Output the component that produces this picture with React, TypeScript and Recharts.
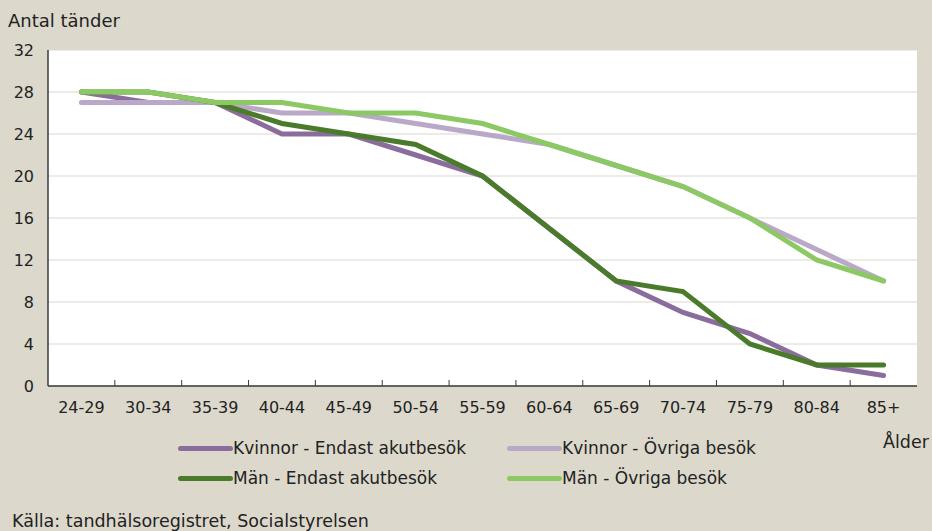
import React from 'react';
import { LineChart, Line, XAxis, YAxis, CartesianGrid } from 'recharts';

const categories = ['24-29', '30-34', '35-39', '40-44', '45-49', '50-54', '55-59', '60-64', '65-69', '70-74', '75-79', '80-84', '85+'];
const kvinnorEndast = [28, 27, 27, 24, 24, 22, 20, 15, 10, 7, 5, 2, 1];
const kvinnorOvriga = [27, 27, 27, 26, 26, 25, 24, 23, 21, 19, 16, 13, 10];
const manEndast = [28, 28, 27, 25, 24, 23, 20, 15, 10, 9, 4, 2, 2];
const manOvriga = [28, 28, 27, 27, 26, 26, 25, 23, 21, 19, 16, 12, 10];
const yTicks = [0, 4, 8, 12, 16, 20, 24, 28, 32];

const series = [
  { key: 'kvinnorEndast', name: 'Kvinnor - Endast akutbesök', color: '#8a6d9c' },
  { key: 'kvinnorOvriga', name: 'Kvinnor - Övriga besök', color: '#b9a8c7' },
  { key: 'manEndast', name: 'Män - Endast akutbesök', color: '#4a7b2a' },
  { key: 'manOvriga', name: 'Män - Övriga besök', color: '#8cc864' },
];

const data = categories.map((age, i) => ({
  age,
  kvinnorEndast: kvinnorEndast[i],
  kvinnorOvriga: kvinnorOvriga[i],
  manEndast: manEndast[i],
  manOvriga: manOvriga[i],
}));

const W = 932;
const H = 531;
const FONT = '"DejaVu Sans", sans-serif';
const BG = '#dcd9cc';
const BORDER = '#3a3a3a';
const TEXT = '#222';
const PLOT_LEFT = 48;
const PLOT_RIGHT = 917;
const PLOT_TOP = 50;
const PLOT_BOTTOM = 386;
const BAND = (PLOT_RIGHT - PLOT_LEFT) / categories.length;
const TICK_MARGIN = 16;

const AgeTick = (props: any) => {
  const { x, y, payload, index } = props;
  const axisY = y - TICK_MARGIN;
  return (
    <g>
      {index > 0 && (
        <line x1={x - BAND / 2} x2={x - BAND / 2} y1={axisY - 6} y2={axisY} stroke={BORDER} strokeWidth={1} />
      )}
      <text x={x} y={y} dy="0.71em" textAnchor="middle" fontSize={16} fill={TEXT} fontFamily={FONT}>
        {payload.value}
      </text>
    </g>
  );
};

const LegendGrid = () => (
  <div
    style={{
      position: 'absolute',
      left: 178,
      top: 433,
      display: 'grid',
      gridTemplateColumns: '329px 320px',
      fontSize: 17,
      color: TEXT,
    }}
  >
    {series.map((s) => (
      <div key={s.key} style={{ display: 'flex', alignItems: 'center', height: 30 }}>
        <span style={{ display: 'inline-block', width: 55, height: 5, background: s.color, borderRadius: 2.5 }} />
        <span>{s.name}</span>
      </div>
    ))}
  </div>
);

export default function App() {
  return (
    <div style={{ position: 'absolute', left: 0, top: 0, width: W, height: H, background: BG, overflow: 'hidden', fontFamily: FONT }}>
      <div style={{ position: 'absolute', left: 8, top: 10, fontSize: 18, color: TEXT }}>Antal tänder</div>
      <div style={{ position: 'absolute', left: 883, top: 432, fontSize: 17.5, color: TEXT }}>Ålder</div>
      <div style={{ position: 'absolute', left: 12, top: 511, fontSize: 17.5, color: TEXT }}>Källa: tandhälsoregistret, Socialstyrelsen</div>
      <LineChart width={W} height={H} data={data} margin={{ top: PLOT_TOP, right: W - PLOT_RIGHT, left: 8, bottom: 0 }}>
        <CartesianGrid vertical={false} stroke="#dad7cb" fill="#ffffff" />
        <XAxis
          dataKey="age"
          height={H - PLOT_BOTTOM}
          padding={{ left: BAND / 2, right: BAND / 2 }}
          tickLine={false}
          tickSize={0}
          tickMargin={TICK_MARGIN}
          axisLine={{ stroke: BORDER, strokeWidth: 1.5 }}
          tick={<AgeTick />}
          interval={0}
        />
        <XAxis xAxisId="top" dataKey="age" orientation="top" height={0} tick={false} tickLine={false} axisLine={{ stroke: BORDER, strokeWidth: 1.5 }} />
        <YAxis
          domain={[0, 32]}
          ticks={yTicks}
          width={PLOT_LEFT - 8}
          tickLine={false}
          tickSize={0}
          tickMargin={14}
          axisLine={{ stroke: BORDER, strokeWidth: 1.5 }}
          tick={{ fontSize: 16, fill: TEXT, fontFamily: FONT }}
          interval={0}
        />
        <YAxis yAxisId="right" orientation="right" width={0} domain={[0, 32]} tick={false} tickLine={false} axisLine={{ stroke: BORDER, strokeWidth: 1.5 }} />
        {series.map((s) => (
          <Line
            key={s.key}
            type="linear"
            dataKey={s.key}
            name={s.name}
            stroke={s.color}
            strokeWidth={5}
            strokeLinecap="round"
            dot={false}
            activeDot={false}
            isAnimationActive={false}
          />
        ))}
      </LineChart>
      <LegendGrid />
    </div>
  );
}
